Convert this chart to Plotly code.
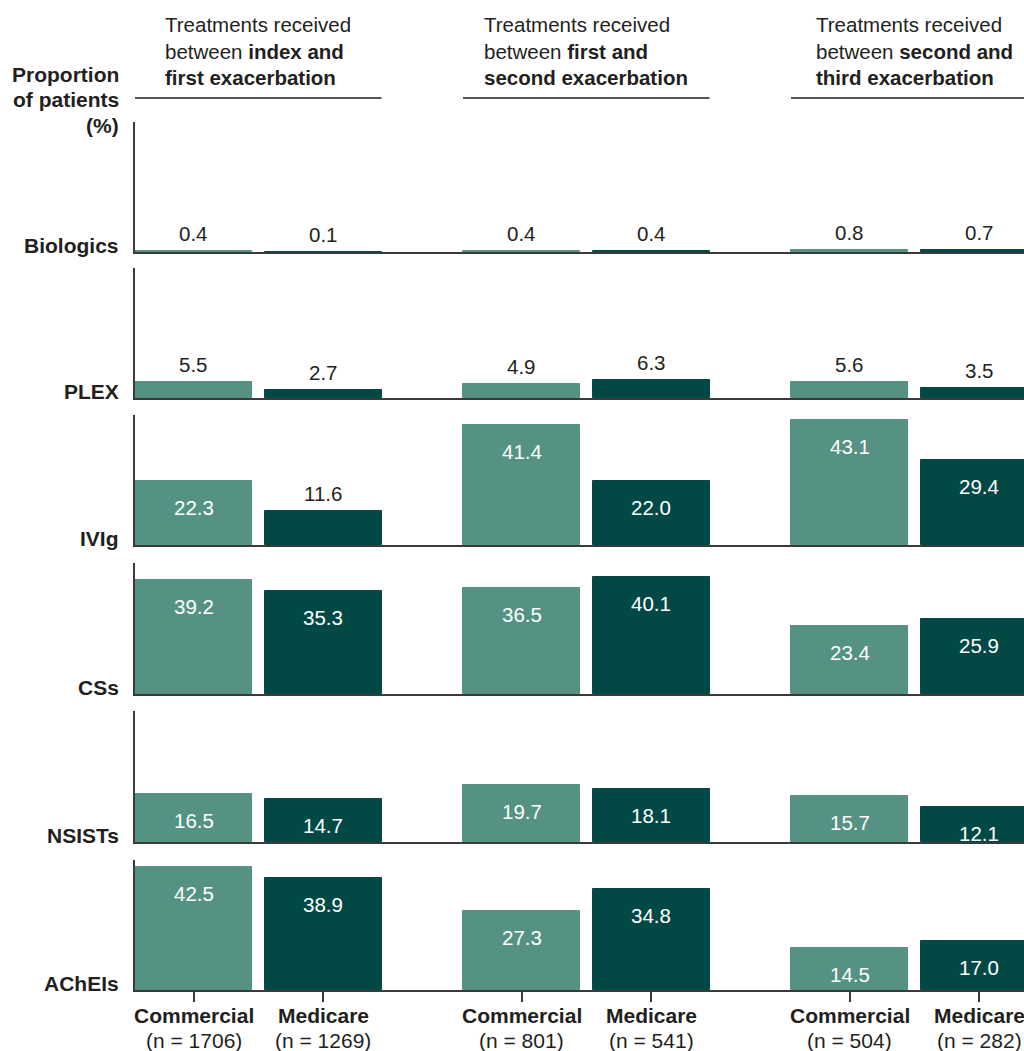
import plotly.graph_objects as go

# Treatment classes, top row to bottom row
treatments = ["Biologics", "PLEX", "IVIg", "CSs", "NSISTs", "AChEIs"]

# Exacerbation intervals (column groups)
interval_headers = [
    "Treatments received<br>between <b>index and</b><br><b>first exacerbation</b>",
    "Treatments received<br>between <b>first and</b><br><b>second exacerbation</b>",
    "Treatments received<br>between <b>second and</b><br><b>third exacerbation</b>",
]

commercial_n = [1706, 801, 504]
medicare_n = [1269, 541, 282]

# Proportion of patients (%) per treatment row, one value per interval
commercial_pct = [
    [0.4, 0.4, 0.8],
    [5.5, 4.9, 5.6],
    [22.3, 41.4, 43.1],
    [39.2, 36.5, 23.4],
    [16.5, 19.7, 15.7],
    [42.5, 27.3, 14.5],
]
medicare_pct = [
    [0.1, 0.4, 0.7],
    [2.7, 6.3, 3.5],
    [11.6, 22.0, 29.4],
    [35.3, 40.1, 25.9],
    [14.7, 18.1, 12.1],
    [38.9, 34.8, 17.0],
]

y_title_lines = ["Proportion", "of patients", "(%)"]

# ---- styling / layout constants ----
W, H = 1024, 1051
COL_COMM = "#559283"
COL_MED = "#024946"
TXT = "#231f20"
AXC = "#3a3a3a"
FONT = "Liberation Sans, Arial, sans-serif"
FS = 21
FS_HEAD = 20.5
FS_VAL = 20.5

GROUP_STEP = 328.0
BAR_STEP = 129.5
BAR_W = 117.0
FIRST_CENTER = 58.5
X_RANGE = [0, 889]
Y_MAX = 45
PLOT_LEFT_PX = 135
LABEL_RIGHT_PX = 121

# row extents in pixels: (axis top, baseline)
row_px = [(122, 252), (268, 398), (415, 545), (563, 694), (711, 842), (860, 990)]

comm_x = [FIRST_CENTER + g * GROUP_STEP for g in range(3)]
med_x = [c + BAR_STEP for c in comm_x]


def py(px):
    """Convert a pixel row (from the top) into paper coordinates."""
    return 1 - px / H


fig = go.Figure()
annotations = []
shapes = []
layout = {}

n_rows = len(treatments)
last_xa = "x" + str(n_rows)
for r, name in enumerate(treatments):
    idx = "" if r == 0 else str(r + 1)
    xa, ya = "x" + idx, "y" + idx
    top_px, base_px = row_px[r]

    for xs, vals, col, series in [
        (comm_x, commercial_pct[r], COL_COMM, "Commercial"),
        (med_x, medicare_pct[r], COL_MED, "Medicare"),
    ]:
        fig.add_trace(go.Bar(
            x=xs, y=vals, width=BAR_W, name=series,
            marker=dict(color=col, line=dict(color=col, width=1)),
            xaxis=xa, yaxis=ya, showlegend=False, hoverinfo="skip",
        ))
        for xv, v in zip(xs, vals):
            inside = v >= 12
            annotations.append(dict(
                x=xv, y=v, xref=xa, yref=ya, text=f"{v:.1f}", showarrow=False,
                xanchor="center", yanchor="top" if inside else "bottom",
                yshift=-13 if inside else 4,
                font=dict(family=FONT, size=FS_VAL, color="white" if inside else TXT),
            ))

    last = r == n_rows - 1
    xaxis = dict(
        domain=[PLOT_LEFT_PX / W, 1.0], range=X_RANGE, anchor=ya,
        showline=True, linecolor=AXC, linewidth=1.5, showgrid=False,
        zeroline=False, fixedrange=True, automargin=False, showticklabels=False,
    )
    if last:
        xaxis.update(
            tickmode="array",
            tickvals=[v for pair in zip(comm_x, med_x) for v in pair],
            ticks="outside", ticklen=10, tickwidth=1.5, tickcolor=AXC,
        )
    else:
        xaxis.update(ticks="")
    if r > 0:
        xaxis["matches"] = "x"
    layout["xaxis" + idx] = xaxis
    layout["yaxis" + idx] = dict(
        domain=[py(base_px), py(top_px)], range=[0, Y_MAX], anchor=xa,
        showline=True, linecolor=AXC, linewidth=1.5, showgrid=False,
        zeroline=False, showticklabels=False, ticks="", fixedrange=True,
        automargin=False,
    )

    # row label beside the baseline
    annotations.append(dict(
        x=LABEL_RIGHT_PX / W, xref="paper", y=0, yref=ya, yshift=7,
        text=f"<b>{name}</b>", showarrow=False, xanchor="right", yanchor="middle",
        font=dict(family=FONT, size=FS, color=TXT),
    ))

# category labels under the bottom row
for xs, label, ns in [(comm_x, "Commercial", commercial_n), (med_x, "Medicare", medicare_n)]:
    for xv, n in zip(xs, ns):
        annotations.append(dict(
            x=xv, xref=last_xa, y=py(1015), yref="paper", text=f"<b>{label}</b>",
            showarrow=False, xanchor="center", yanchor="middle",
            font=dict(family=FONT, size=FS, color=TXT),
        ))
        annotations.append(dict(
            x=xv, xref=last_xa, y=py(1040), yref="paper", text=f"(n = {n})",
            showarrow=False, xanchor="center", yanchor="middle",
            font=dict(family=FONT, size=FS, color=TXT),
        ))

# axis title at top left, right aligned
for line, ypx in zip(y_title_lines, [75, 100, 125]):
    annotations.append(dict(
        x=LABEL_RIGHT_PX / W, xref="paper", y=py(ypx), yref="paper",
        text=f"<b>{line}</b>", showarrow=False, xanchor="right", yanchor="middle",
        font=dict(family=FONT, size=FS, color=TXT),
    ))

# interval headers with rules beneath
for g, header in enumerate(interval_headers):
    left = comm_x[g] - BAR_W / 2
    right = med_x[g] + BAR_W / 2
    annotations.append(dict(
        x=(left + right) / 2, xref="x", y=py(51), yref="paper",
        text=header, showarrow=False, xanchor="center", yanchor="middle",
        align="left", font=dict(family=FONT, size=FS_HEAD, color=TXT),
    ))
    shapes.append(dict(
        type="line", xref="x", yref="paper", x0=left, x1=right,
        y0=py(98), y1=py(98), line=dict(color=TXT, width=1.3),
    ))

fig.update_layout(
    **layout,
    width=W, height=H,
    margin=dict(l=0, r=0, t=0, b=0, autoexpand=False),
    paper_bgcolor="white", plot_bgcolor="white",
    bargap=0, barmode="overlay",
    annotations=annotations, shapes=shapes,
    font=dict(family=FONT, size=FS, color=TXT),
)

fig.write_html("out.html")
